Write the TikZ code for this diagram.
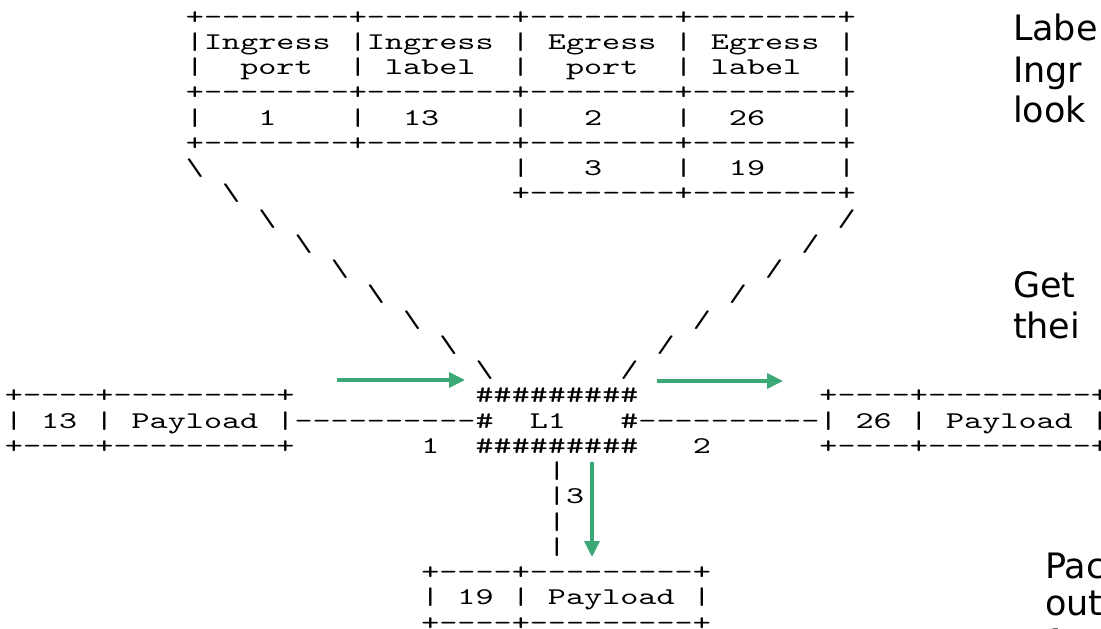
\documentclass[tikz,border=0pt]{standalone}
\usepackage{fontspec}
\usepackage{graphicx}
\setmonofont{lmmono10-regular.otf}
\newfontfamily\notefont{DejaVu Sans}
\usetikzlibrary{arrows.meta}
\definecolor{arrowgreen}{RGB}{60,168,120}
\newcommand\asc[1]{\scalebox{1.4365}[1]{#1}}
\tikzset{
  ascii/.style={anchor=base west, inner sep=0pt, outer sep=0pt, text=black,
    font=\ttfamily\fontsize{24}{24}\selectfont},
  flow/.style={draw=arrowgreen, line width=3.5pt, -{Triangle[length=16pt,width=15pt]}},
  note/.style={anchor=base west, inner sep=0pt, outer sep=0pt, text=black,
    font=\notefont\fontsize{35}{40}\selectfont}
}
\begin{document}
\begin{tikzpicture}[x=1pt,y=-1pt]
\useasboundingbox (0,0) rectangle (1101,629);
\clip (0,0) rectangle (1101,629);
\fill[white] (0,0) rectangle (1101,629);
\begin{scope}[x=18.1pt,y=-25.25pt,shift={(4.95pt,-24pt)}]
  % forwarding table
  \node[ascii] (t0) at (10,0) {\asc{+--------+--------+--------+--------+}};
  \node[ascii] (t1) at (10,1) {\asc{|Ingress\ |Ingress\ |\ Egress\ |\ Egress\ |}};
  \node[ascii] (t2) at (10,2) {\asc{|\ \ port\ \ |\ label\ \ |\ \ port\ \ |\ label\ \ |}};
  \node[ascii] (t3) at (10,3) {\asc{+--------+--------+--------+--------+}};
  \node[ascii] (t4) at (10,4) {\asc{|\ \ \ 1\ \ \ \ |\ \ 13\ \ \ \ |\ \ \ 2\ \ \ \ |\ \ 26\ \ \ \ |}};
  \node[ascii] (t5) at (10,5) {\asc{+--------+--------+--------+--------+}};
  \node[ascii] (t6) at (28,6) {\asc{|\ \ \ 3\ \ \ \ |\ \ 19\ \ \ \ |}};
  \node[ascii] (t7) at (28,7) {\asc{+--------+--------+}};
  % left dashed leader
  \node[ascii] (b6) at (10,6) {\asc{\textbackslash}};
  \node[ascii] (b7) at (12,7) {\asc{\textbackslash}};
  \node[ascii] (b8) at (14,8) {\asc{\textbackslash}};
  \node[ascii] (b9) at (16,9) {\asc{\textbackslash}};
  \node[ascii] (b10) at (18,10) {\asc{\textbackslash}};
  \node[ascii] (b11) at (20,11) {\asc{\textbackslash}};
  \node[ascii] (b12) at (22,12) {\asc{\textbackslash}};
  \node[ascii] (b13) at (24,13) {\asc{\textbackslash}};
  \node[ascii] (b14) at (26,14) {\asc{\textbackslash}};
  % right dashed leader
  \node[ascii] (s8) at (46,8) {\asc{/}};
  \node[ascii] (s9) at (44,9) {\asc{/}};
  \node[ascii] (s10) at (42,10) {\asc{/}};
  \node[ascii] (s11) at (40,11) {\asc{/}};
  \node[ascii] (s12) at (38,12) {\asc{/}};
  \node[ascii] (s13) at (36,13) {\asc{/}};
  \node[ascii] (s14) at (34,14) {\asc{/}};
  % router row
  \node[ascii] (l15) at (0,15) {\asc{+----+---------+}};
  \node[ascii] (h15) at (26,15) {\asc{\#\#\#\#\#\#\#\#\#}};
  \node[ascii] (r15) at (45,15) {\asc{+----+---------+}};
  \node[ascii] (m16) at (0,16) {\asc{|\ 13\ |\ Payload\ |----------\#\ \ L1\ \ \ \#----------|\ 26\ |\ Payload\ |}};
  \node[ascii] (l17) at (0,17) {\asc{+----+---------+}};
  \node[ascii] (p1) at (23,17) {\asc{1}};
  \node[ascii] (h17) at (26,17) {\asc{\#\#\#\#\#\#\#\#\#}};
  \node[ascii] (p2) at (38,17) {\asc{2}};
  \node[ascii] (r17) at (45,17) {\asc{+----+---------+}};
  % port 3 link
  \node[ascii] (v18) at (30,18) {\asc{|}};
  \node[ascii] (v19) at (30,19) {\asc{|3}};
  \node[ascii] (v20) at (30,20) {\asc{|}};
  \node[ascii] (v21) at (30,21) {\asc{|}};
  \node[ascii] (d22) at (23,22) {\asc{+----+---------+}};
  \node[ascii] (d23) at (23,23) {\asc{|\ 19\ |\ Payload\ |}};
  \node[ascii] (d24) at (23,24) {\asc{+----+---------+}};
\end{scope}
% green flow arrows
\coordinate (a1s) at (337,380);
\coordinate (a1e) at (465,380);
\coordinate (a2s) at (657,381);
\coordinate (a2e) at (783,381);
\coordinate (a3s) at (592,462);
\coordinate (a3e) at (592,557);
\draw[flow] (a1s) -- (a1e);
\draw[flow] (a2s) -- (a2e);
\draw[flow] (a3s) -- (a3e);
% side notes (cut off at the right edge)
\node[note] (n1) at (1013,40) {Labe};
\node[note] (n2) at (1013,82) {Ingr};
\node[note] (n3) at (1013,122) {look};
\node[note] (n4) at (1013,297) {Get};
\node[note] (n5) at (1013,338) {thei};
\node[note] (n6) at (1045,578) {Pac};
\node[note] (n7) at (1045,615) {out};
\node[note] (n8) at (1045,655) {f};
\end{tikzpicture}
\end{document}
